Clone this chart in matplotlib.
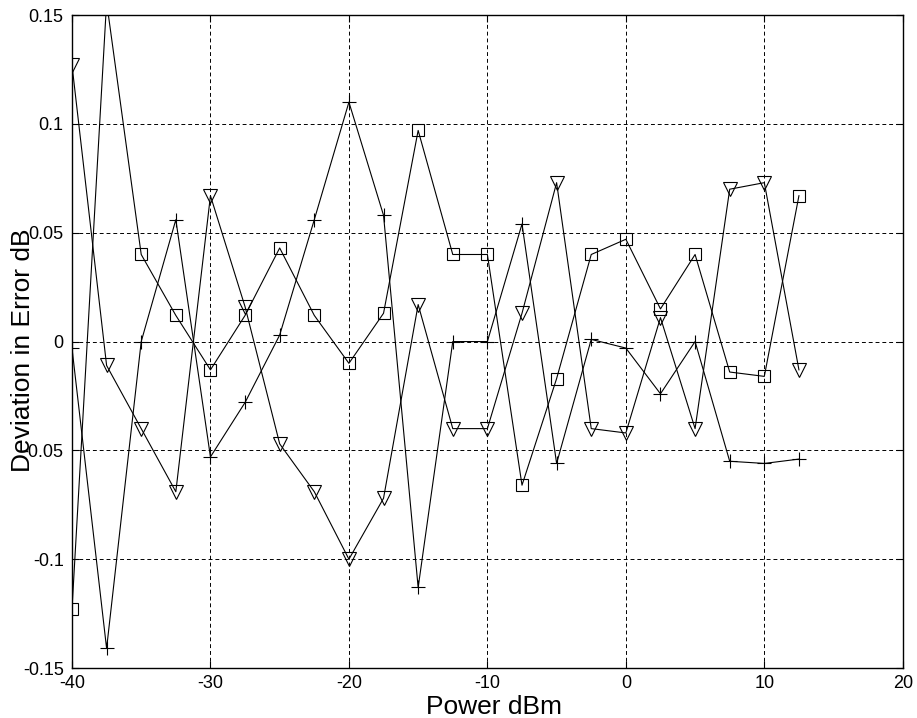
import matplotlib as mpl
mpl.use('Agg')
import matplotlib.pyplot as plt
import numpy as np

plt.rcParams['font.family'] = ['Liberation Sans', 'DejaVu Sans']

power = [-40, -37.5, -35, -32.5, -30, -27.5, -25, -22.5, -20, -17.5, -15,
         -12.5, -10, -7.5, -5, -2.5, 0, 2.5, 5, 7.5, 10, 12.5]

dev_plus = [-0.003, -0.141, 0.0, 0.056, -0.053, -0.028, 0.003, 0.056, 0.110,
            0.058, -0.113, 0.0, 0.0, 0.054, -0.056, 0.001, -0.003, -0.024,
            0.0, -0.055, -0.056, -0.054]
dev_square = [-0.123, 0.156, 0.040, 0.012, -0.013, 0.012, 0.043, 0.012,
              -0.010, 0.013, 0.097, 0.040, 0.040, -0.066, -0.017, 0.040,
              0.047, 0.015, 0.040, -0.014, -0.016, 0.067]
dev_tri = [0.127, -0.011, -0.040, -0.069, 0.067, 0.016, -0.047, -0.069,
           -0.100, -0.072, 0.017, -0.040, -0.040, 0.013, 0.073, -0.040,
           -0.042, 0.011, -0.040, 0.070, 0.073, -0.013]

xticks = [-40, -30, -20, -10, 0, 10, 20]
yticks = [-0.15, -0.1, -0.05, 0, 0.05, 0.1, 0.15]
ytick_labels = ['-0.15', '-0.1', '-0.05', '0', '0.05', '0.1', '0.15']

fig = plt.figure(figsize=(9.17, 7.18), dpi=100)
ax = fig.add_axes([0.0785, 0.0696, 0.906, 0.9094])

ax.plot(power, dev_plus, 'k-', marker='+', ms=10, mew=0.8, lw=0.8)
ax.plot(power, dev_square, 'k-', marker='s', ms=8.5, mfc='none', mew=0.8, lw=0.8)
ax.plot(power, dev_tri, 'k-', marker='v', ms=10, mfc='none', mew=0.8, lw=0.8)

ax.set_xlim(-40, 20)
ax.set_ylim(-0.15, 0.15)
ax.set_xticks(xticks)
ax.set_xticklabels([str(t) for t in xticks])
ax.set_yticks(yticks)
ax.set_yticklabels(ytick_labels)
ax.grid(True, color='k', linestyle=(0, (4, 3)), linewidth=0.7)
ax.tick_params(direction='in', top=True, right=True, labelsize=13, length=5)
ax.tick_params(axis='x', pad=5)
ax.tick_params(axis='y', pad=6)
for s in ax.spines.values():
    s.set_linewidth(1.0)

ax.set_xlabel('Power dBm', fontsize=19)
ax.xaxis.set_label_coords(0.508, -0.041)
ax.set_ylabel('Deviation in Error dB', fontsize=19)
ax.yaxis.set_label_coords(-0.044, 0.487)

plt.savefig('out.png', dpi=100)
